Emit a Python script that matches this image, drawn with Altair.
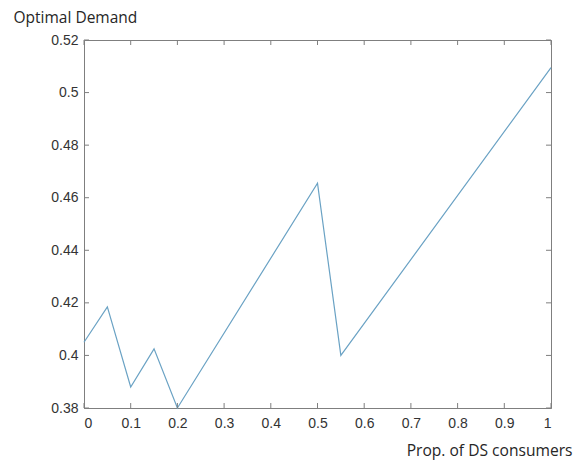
import altair as alt
import pandas as pd

prop = [0.0, 0.05, 0.10, 0.15, 0.20, 0.50, 0.55, 1.0]
demand = [0.405, 0.4185, 0.388, 0.4025, 0.380, 0.4655, 0.400, 0.5095]
x_ticks = [0, 0.1, 0.2, 0.3, 0.4, 0.5, 0.6, 0.7, 0.8, 0.9, 1.0]
y_ticks = [0.38, 0.40, 0.42, 0.44, 0.46, 0.48, 0.50, 0.52]

W, H = 467, 368
AX = "#7f7f7f"
TXT = "#262626"
LBL = "#333333"

df = pd.DataFrame({"p": prop, "d": demand})
xt = pd.DataFrame({"p": x_ticks})
yt = pd.DataFrame({"d": y_ticks})

xs = alt.Scale(domain=[0, 1], nice=False, zero=False)
ys = alt.Scale(domain=[0.38, 0.52], nice=False, zero=False)

line = alt.Chart(df).mark_line(color="#6aa2c4", strokeWidth=1.2).encode(
    x=alt.X("p:Q", scale=xs, axis=alt.Axis(
        values=x_ticks, format="~g", tickSize=0, labelPadding=8,
        domainColor=AX, labelColor=LBL, labelFontSize=14, labelFont="Liberation Sans",
        grid=False, title="Prop. of DS consumers", titleFont="Open Sans",
        titleFontSize=15.6, titleFontWeight="normal", titleColor=TXT,
        titleAnchor="end", titleAlign="right", titleX=W + 21, titleY=47,
        titleBaseline="alphabetic")),
    y=alt.Y("d:Q", scale=ys, axis=alt.Axis(
        values=y_ticks, format="~g", tickSize=0, labelPadding=6,
        domainColor=AX, labelColor=LBL, labelFontSize=14, labelFont="Liberation Sans",
        grid=False, title="Optimal Demand", titleFont="Open Sans",
        titleFontSize=15.5, titleFontWeight="normal", titleColor=TXT,
        titleAngle=0, titleAlign="left", titleX=-71, titleY=-18,
        titleBaseline="alphabetic")),
)

tick_style = dict(color=AX, strokeWidth=1)
xb = alt.Chart(xt).mark_rule(**tick_style).encode(
    x=alt.X("p:Q", scale=xs), y=alt.value(H), y2=alt.value(H - 5))
xtp = alt.Chart(xt).mark_rule(**tick_style).encode(
    x=alt.X("p:Q", scale=xs), y=alt.value(0), y2=alt.value(5))
yl = alt.Chart(yt).mark_rule(**tick_style).encode(
    y=alt.Y("d:Q", scale=ys), x=alt.value(0), x2=alt.value(5))
yr = alt.Chart(yt).mark_rule(**tick_style).encode(
    y=alt.Y("d:Q", scale=ys), x=alt.value(W), x2=alt.value(W - 5))

chart = alt.layer(line, xb, xtp, yl, yr).properties(
    width=W, height=H,
    padding={"left": 84, "top": 40, "right": 24, "bottom": 55},
    autosize=alt.AutoSizeParams(type="none"),
    background="white",
).configure_view(stroke=AX, strokeWidth=1)

chart.save("out.html", embed_options={"renderer": "svg", "actions": False})
